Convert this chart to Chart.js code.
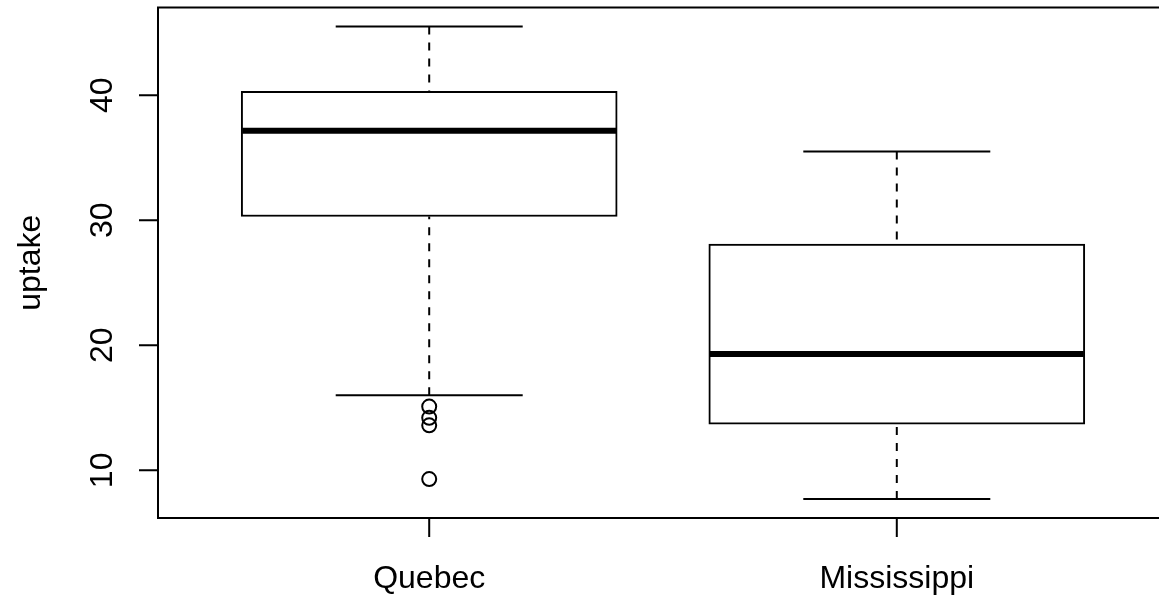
<!DOCTYPE html>
<html>
<head>
<meta charset="utf-8">
<script src="https://cdn.jsdelivr.net/npm/chart.js@4.4.1/dist/chart.umd.min.js"></script>
<style>
html,body{margin:0;padding:0;background:#fff;overflow:hidden;}
#wrap{width:1200px;height:605px;}
canvas{display:block;}
</style>
</head>
<body>
<div id="wrap"><canvas id="c" width="1200" height="605"></canvas></div>
<script>
// ---- data ----
const categories = ["Quebec", "Mississippi"];
const categoryPositions = [1, 2];
const whiskerLow = [16.0, 7.7];
const q1 = [30.3, 13.7];
const median = [37.15, 19.3];
const q3 = [40.3, 28.1];
const whiskerHigh = [45.5, 35.5];
const outliersQuebec = [15.1, 14.2, 13.6, 9.3];
const outliersMississippi = [];
const yTicks = [10, 20, 30, 40];
const yLabel = "uptake";
const xRange = [0.42, 2.58];
const yRange = [6.188, 47.012];

const FONT = '32px "Liberation Sans", Arial, Helvetica, sans-serif';

// build datasets from the arrays
const whiskerData = [];
categoryPositions.forEach((p, i) => {
  whiskerData.push({x: p, y: whiskerHigh[i]}, {x: p, y: q3[i]}, {x: p, y: null});
  whiskerData.push({x: p, y: whiskerLow[i]}, {x: p, y: q1[i]}, {x: p, y: null});
});
const capData = [];
categoryPositions.forEach((p, i) => {
  capData.push({x: p, y: whiskerHigh[i]}, {x: p, y: whiskerLow[i]});
});
const boxData = categoryPositions.map((p, i) => ({x: p, y: [q1[i], q3[i]]}));
const medianData = categoryPositions.map((p, i) => ({x: p, y: median[i]}));
const outlierLists = [outliersQuebec, outliersMississippi];
const outlierData = [];
outlierLists.forEach((list, i) => list.forEach(v => outlierData.push({x: categoryPositions[i], y: v})));

const axesPlugin = {
  id: 'rAxes',
  afterDraw(chart) {
    const {ctx, chartArea: a, scales: {x, y}} = chart;
    ctx.save();
    ctx.strokeStyle = '#000';
    ctx.lineWidth = 2;
    ctx.lineCap = 'butt';
    ctx.setLineDash([]);
    ctx.strokeRect(a.left, a.top, a.right - a.left, a.bottom - a.top);
    ctx.beginPath();
    yTicks.forEach(v => {
      const py = y.getPixelForValue(v);
      ctx.moveTo(a.left, py); ctx.lineTo(a.left - 19, py);
    });
    categoryPositions.forEach(v => {
      const px = x.getPixelForValue(v);
      ctx.moveTo(px, a.bottom); ctx.lineTo(px, a.bottom + 19);
    });
    ctx.stroke();
    ctx.fillStyle = '#000';
    ctx.font = FONT;
    ctx.textAlign = 'center';
    ctx.textBaseline = 'alphabetic';
    categories.forEach((c, i) => {
      ctx.fillText(c, x.getPixelForValue(categoryPositions[i]), a.bottom + 70);
    });
    yTicks.forEach(v => {
      const py = y.getPixelForValue(v);
      ctx.save();
      ctx.translate(a.left - 46, py);
      ctx.rotate(-Math.PI / 2);
      ctx.fillText(String(v), 0, 0);
      ctx.restore();
    });
    ctx.save();
    ctx.translate(40, (a.top + a.bottom) / 2);
    ctx.rotate(-Math.PI / 2);
    ctx.fillText(yLabel, 0, 0);
    ctx.restore();
    ctx.restore();
  }
};

new Chart(document.getElementById('c'), {
  type: 'bar',
  data: {
    datasets: [
      { type: 'line', data: whiskerData, borderColor: '#000', borderWidth: 2, borderDash: [8, 8],
        pointRadius: 0, spanGaps: false, fill: false, tension: 0, order: 3 },
      { type: 'scatter', data: capData, pointStyle: 'line', pointRadius: 93.5, borderWidth: 2,
        borderColor: '#000', backgroundColor: '#000', order: 2 },
      { type: 'bar', data: boxData, backgroundColor: '#fff', borderColor: '#000', borderWidth: 2,
        borderSkipped: false, barThickness: 376, order: 1 },
      { type: 'scatter', data: medianData, pointStyle: 'line', pointRadius: 187, borderWidth: 6,
        borderColor: '#000', backgroundColor: '#000', order: 0 },
      { type: 'scatter', data: outlierData, pointStyle: 'circle', pointRadius: 7, borderWidth: 2,
        borderColor: '#000', backgroundColor: 'rgba(0,0,0,0)', order: 0 }
    ]
  },
  options: {
    responsive: false,
    animation: false,
    events: [],
    devicePixelRatio: 1,
    layout: { autoPadding: false, padding: { left: 158, right: 32, top: 7.5, bottom: 87 } },
    plugins: { legend: { display: false }, tooltip: { enabled: false } },
    scales: {
      x: { type: 'linear', min: xRange[0], max: xRange[1], display: false, offset: false },
      y: { type: 'linear', min: yRange[0], max: yRange[1], display: false }
    }
  },
  plugins: [axesPlugin]
});
</script>
</body>
</html>
